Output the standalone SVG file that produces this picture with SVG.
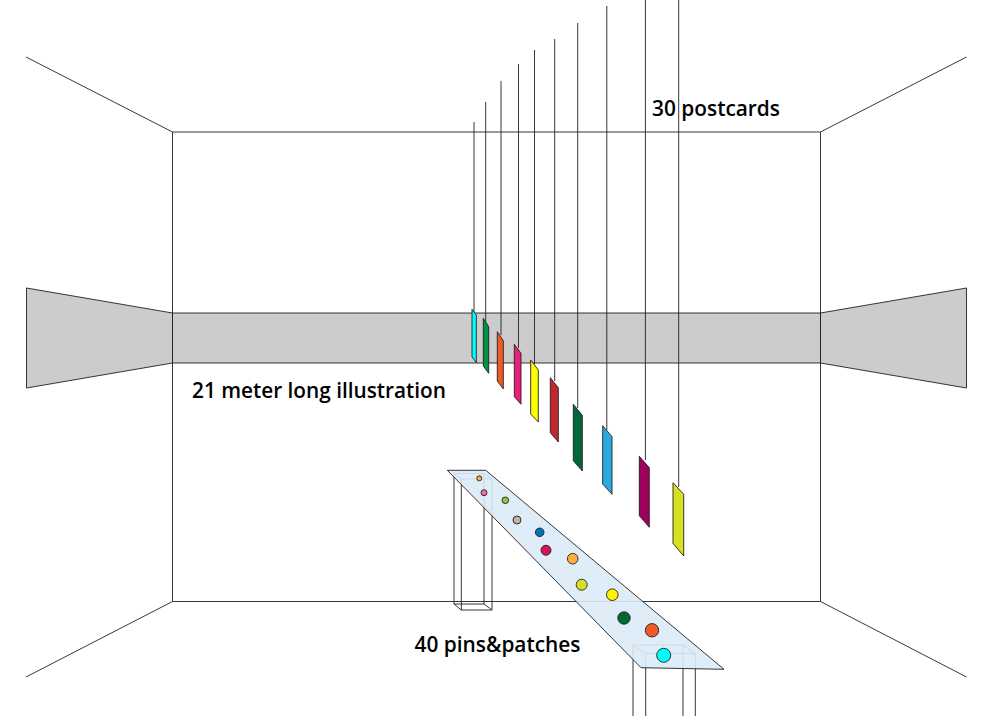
<svg xmlns="http://www.w3.org/2000/svg" width="1000" height="716" viewBox="0 0 1000 716">
<style>
.l{fill:none;stroke:#231f20;stroke-width:.9}
.band{fill:#ccc;stroke:#231f20;stroke-width:.9}
.card{stroke:#231f20;stroke-width:.9}
.pin{stroke:#231f20;stroke-width:.9}
.t{font-family:"Open Sans","Noto Sans",sans-serif;font-weight:600;font-size:21.5px;fill:#000}
</style>
<rect width="1000" height="716" fill="#fff"/>
<g id="room">
<path class="band" d="M172.500 313H820.500V363H172.500Z"/>
<path class="band" d="M26.500 288L172.500 313V363L26.500 388Z"/>
<path class="band" d="M966.500 288L820.500 313V363L966.500 388Z"/>
<path class="l" d="M172.500 132H820.500V601.500H172.500Z"/>
<path class="l" d="M26 57L172.500 132M966.500 57L820.500 132M26 677L172.500 601.500M966.500 677L820.500 601.500"/>
</g>
<g id="connectors">
<path class="l" d="M474 122V312M485.700 102V322M501 81V335M518.500 64V348M534.500 50V364M554.700 39V381M577.700 23V408M606.800 6V430M645.400 0V460M678.700 0V487"/>
</g>
<g id="postcards">
<path id="card1" class="card" fill="#00ffff" d="M472 309.300L476.300 315V362.700L472 356.700Z"/>
<path id="card2" class="card" fill="#009245" d="M483.300 318.300L488.700 326.700V373.300L483.300 366Z"/>
<path id="card3" class="card" fill="#f15a24" d="M497.300 331.700L503.300 340.700V389L497.300 381Z"/>
<path id="card4" class="card" fill="#ed1e79" d="M514.300 344.300L521 353.300V404.300L514.300 396.700Z"/>
<path id="card5" class="card" fill="#ffff00" d="M530.700 360L538.300 370V422L530.700 414Z"/>
<path id="card6" class="card" fill="#c1272d" d="M550.300 377.700L558.300 387.700V442L550.300 432.700Z"/>
<path id="card7" class="card" fill="#006837" d="M573.300 404.300L582.300 415.300V471L573.300 460.700Z"/>
<path id="card8" class="card" fill="#29abe2" d="M602.700 425.700L612 436.700V494.300L602.700 484Z"/>
<path id="card9" class="card" fill="#9e005d" d="M639.300 456.300L649.300 467.700V527.300L639.300 515.700Z"/>
<path id="card10" class="card" fill="#d9e021" d="M673 482.700L683.700 494.300V556L673 543.300Z"/>
</g>
<g id="stand-left">
<path class="l" d="M454 473.500H484L492 479H461.300ZM454 473.500V604L461.300 610H492V479M484 473.500V604H454M484 604L492 610M461.300 479V610"/>
</g>
<g id="stand-right">
<path class="l" d="M633 645H683L695.300 653.300H645.700ZM633 645V716M683 645V716M645.700 653.300V716M695.300 653.300V716"/>
</g>
<g id="table">
<path fill="#dcebf7" fill-opacity=".9" stroke="#231f20" stroke-width=".9" d="M447.300 470.300H485.700L724 669.300L641 667.700Z"/>
</g>
<g id="pins">
<circle class="pin" fill="#fbb040" cx="479.300" cy="478.300" r="2.500"/>
<circle class="pin" fill="#f06eaa" cx="484" cy="492.700" r="3"/>
<circle class="pin" fill="#8dc63f" cx="505.300" cy="500.300" r="3.300"/>
<circle class="pin" fill="#c2b59b" cx="517" cy="520" r="4"/>
<circle class="pin" fill="#0072bc" cx="539.700" cy="532.300" r="4.300"/>
<circle class="pin" fill="#d4145a" cx="546" cy="550.300" r="5"/>
<circle class="pin" fill="#fbb040" cx="572.700" cy="558.700" r="5.300"/>
<circle class="pin" fill="#d7df23" cx="581.700" cy="584.700" r="5.500"/>
<circle class="pin" fill="#fff200" cx="612.300" cy="594.700" r="5.800"/>
<circle class="pin" fill="#006837" cx="624" cy="618" r="6.200"/>
<circle class="pin" fill="#f15a24" cx="652" cy="630.300" r="6.700"/>
<circle class="pin" fill="#00ffff" cx="663.700" cy="655.300" r="7"/>
</g>
<g id="labels">
<text class="t" x="652" y="116" textLength="128" lengthAdjust="spacingAndGlyphs">30 postcards</text>
<text class="t" x="192" y="398" textLength="254" lengthAdjust="spacingAndGlyphs">21 meter long illustration</text>
<text class="t" x="414.500" y="652" textLength="166" lengthAdjust="spacingAndGlyphs">40 pins&amp;patches</text>
</g>
</svg>
